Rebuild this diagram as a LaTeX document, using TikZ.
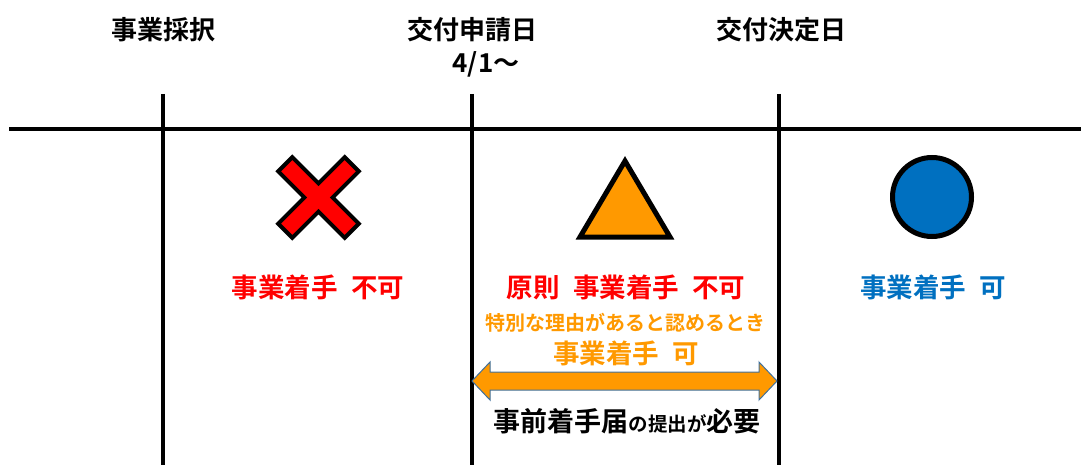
\documentclass[tikz,border=0pt]{standalone}
\usepackage{fontspec}
\setmainfont{Noto Sans CJK JP}[BoldFont={Noto Sans CJK JP Bold}]
\definecolor{xred}{HTML}{FF0000}
\definecolor{xorange}{HTML}{FF9900}
\definecolor{xblue}{HTML}{0070C0}
\definecolor{xedge}{HTML}{41719C}
\newcommand{\gapsp}{\hspace{0.5em}}
\tikzset{
  rule/.style={line width=4pt, black},
  head/.style={font=\bfseries\fontsize{26}{28}\selectfont, inner sep=0pt},
  verdict/.style={font=\bfseries\fontsize{26.5}{28}\selectfont, inner sep=0pt},
  note/.style={font=\bfseries\fontsize{20}{22}\selectfont, inner sep=0pt, text=xorange},
  symb/.style={line width=5pt, black, line join=miter},
}
\begin{document}
\begin{tikzpicture}[x=1pt,y=-1pt]
\useasboundingbox (0,0) rectangle (1081,465);
% timeline
\coordinate (hl) at (9,129.5);
\coordinate (hr) at (1081,129.5);
\draw[rule] (hl) -- (hr);
\coordinate (v1t) at (163,94); \coordinate (v1b) at (163,465);
\coordinate (v2t) at (472,94); \coordinate (v2b) at (472,465);
\coordinate (v3t) at (779,94); \coordinate (v3b) at (779,465);
\draw[rule] (v1t) -- (v1b);
\draw[rule] (v2t) -- (v2b);
\draw[rule] (v3t) -- (v3b);
% headings
\node[head] (h1) at (163,30) {事業採択};
\node[head] (h2) at (472,30) {交付申請日};
\node[head] (h2b) at (486,64) {4/1～};
\node[head] (h3) at (781,30) {交付決定日};
% cross
\draw[line width=4pt, black, fill=xred, line join=miter, shift={(318.5,197.5)}, rotate=45]
  (-10,-47) -- (10,-47) -- (10,-10) -- (47,-10) -- (47,10) -- (10,10) -- (10,47)
  -- (-10,47) -- (-10,10) -- (-47,10) -- (-47,-10) -- (-10,-10) -- cycle;
% triangle
\draw[symb, fill=xorange] (625,161) -- (670,237) -- (580,237) -- cycle;
% circle
\draw[symb, fill=xblue] (932,197) circle (39.5);
% verdicts
\node[verdict, text=xred] (t1) at (318,287) {事業着手\gapsp 不可};
\node[verdict, text=xred] (t2) at (626,287) {原則\gapsp 事業着手\gapsp 不可};
\node[verdict, text=xblue] (t3) at (933,287) {事業着手\gapsp 可};
\node[note] (n1) at (625,323) {特別な理由があると認めるとき};
\node[verdict, text=xorange] (n2) at (626,353) {事業着手\gapsp 可};
% double arrow
\draw[fill=xorange, draw=xedge, line width=1pt]
  (472,381) -- (490,362) -- (490,372) -- (759,372) -- (759,362) -- (777,381)
  -- (759,400) -- (759,390) -- (490,390) -- (490,400) -- cycle;
\node[inner sep=0pt, font=\bfseries] (req) at (627,421)
  {\fontsize{27}{29}\selectfont 事前着手届\fontsize{19.5}{22}\selectfont の提出が\fontsize{27}{29}\selectfont 必要};
\end{tikzpicture}
\end{document}
